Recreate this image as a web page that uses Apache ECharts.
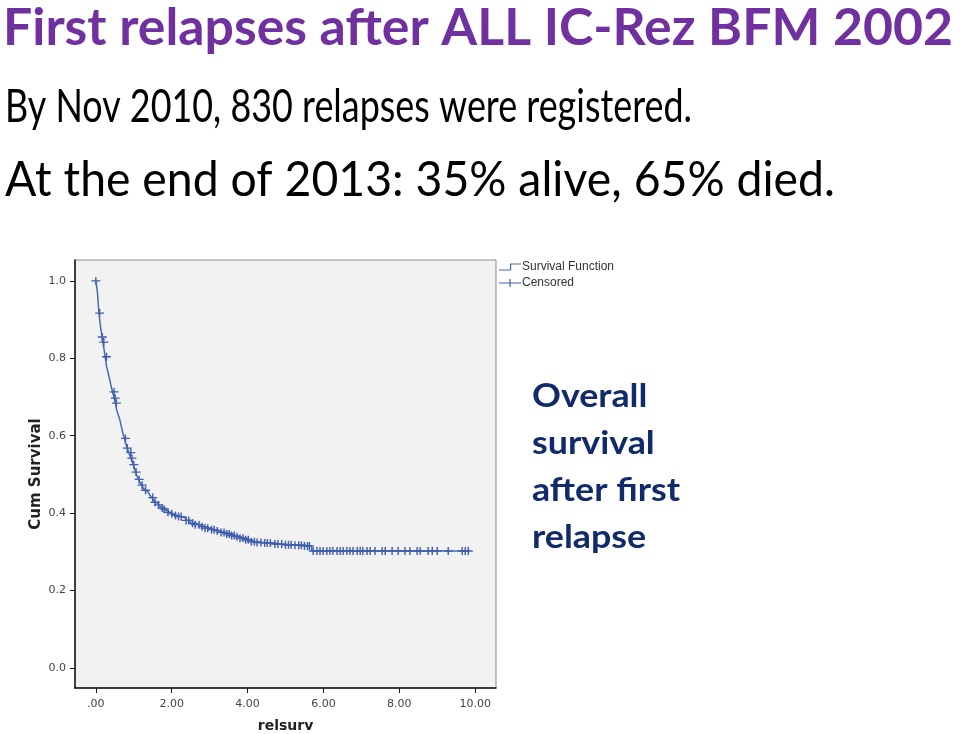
<!DOCTYPE html>
<html>
<head>
<meta charset="utf-8">
<script src="https://cdn.jsdelivr.net/npm/echarts@6/dist/echarts.min.js"></script>
<style>
html,body{margin:0;padding:0;background:#fff;}
#chart{width:960px;height:734px;}
</style>
</head>
<body>
<div id="chart"></div>
<script>
// ---- Data (Kaplan-Meier curve) ----
var stepTimes = [0, 0.040, 0.061, 0.084, 0.106, 0.132, 0.166, 0.185, 0.211, 0.245, 0.282, 0.317, 0.356, 0.396, 0.441, 0.483, 0.520, 0.546, 0.588, 0.633, 0.673, 0.712, 0.752, 0.784, 0.826, 0.871, 0.923, 0.958, 0.985, 1.011, 1.047, 1.082, 1.121, 1.161, 1.206, 1.248, 1.293, 1.338, 1.380, 1.425, 1.470, 1.512, 1.557, 1.600, 1.644, 1.690, 1.734, 1.780, 1.821, 1.890, 1.953, 2.04, 2.13, 2.26, 2.37, 2.48, 2.61, 2.74, 2.88, 3.01, 3.14, 3.27, 3.40, 3.54, 3.67, 3.80, 3.93, 4.06, 4.20, 4.38, 4.67, 4.91, 5.17, 5.46, 5.69, 9.82];
var stepSurvival = [1.0, 0.972, 0.943, 0.917, 0.895, 0.876, 0.855, 0.842, 0.826, 0.804, 0.779, 0.765, 0.749, 0.731, 0.713, 0.697, 0.684, 0.667, 0.654, 0.641, 0.623, 0.607, 0.593, 0.581, 0.568, 0.556, 0.542, 0.533, 0.525, 0.517, 0.506, 0.496, 0.487, 0.479, 0.472, 0.465, 0.459, 0.454, 0.450, 0.446, 0.440, 0.434, 0.428, 0.425, 0.421, 0.417, 0.413, 0.410, 0.407, 0.402, 0.398, 0.394, 0.391, 0.387, 0.381, 0.374, 0.370, 0.365, 0.361, 0.357, 0.354, 0.350, 0.346, 0.342, 0.339, 0.335, 0.331, 0.326, 0.324, 0.323, 0.320, 0.318, 0.317, 0.315, 0.302, 0.302];
var censoredTimes = [0.0, 0.10, 0.17, 0.21, 0.28, 0.48, 0.51, 0.54, 0.78, 0.83, 0.92, 0.95, 1.00, 1.06, 1.14, 1.22, 1.31, 1.50, 1.56, 1.65, 1.75, 1.80, 1.90, 2.00, 2.10, 2.18, 2.25, 2.38, 2.45, 2.55, 2.62, 2.72, 2.80, 2.88, 2.95, 3.05, 3.12, 3.20, 3.30, 3.38, 3.45, 3.52, 3.58, 3.65, 3.72, 3.80, 3.88, 3.95, 4.02, 4.10, 4.18, 4.25, 4.35, 4.45, 4.52, 4.60, 4.72, 4.80, 4.90, 5.00, 5.08, 5.15, 5.25, 5.35, 5.42, 5.50, 5.58, 5.63, 5.73, 5.83, 5.91, 5.99, 6.09, 6.17, 6.25, 6.36, 6.44, 6.52, 6.62, 6.70, 6.78, 6.89, 6.97, 7.04, 7.15, 7.23, 7.36, 7.55, 7.63, 7.81, 7.97, 8.15, 8.28, 8.47, 8.55, 8.76, 8.87, 9.00, 9.29, 9.66, 9.74, 9.82];
var xTicks = [0, 2, 4, 6, 8, 10];
var yTicks = [0, 0.2, 0.4, 0.6, 0.8, 1.0];
var titleText = 'First relapses after ALL IC-Rez BFM 2002';
var line2Text = 'By Nov 2010, 830 relapses were registered.';
var line3Text = 'At the end of 2013: 35% alive, 65% died.';
var noteLines = ['Overall', 'survival', 'after first', 'relapse'];

// survival value of the KM step function at time t
function survivalAt(t) {
  var s = stepSurvival[0];
  for (var i = 0; i < stepTimes.length; i++) {
    if (stepTimes[i] <= t + 1e-9) s = stepSurvival[i];
  }
  return s;
}
var curveData = stepTimes.map(function (t, i) { return [t, stepSurvival[i]]; });
var censorData = censoredTimes.map(function (t) { return [t, survivalAt(t)]; });

// text width fitting
var ctx = document.createElement('canvas').getContext('2d');
function fitScale(text, font, target) {
  ctx.font = font;
  return target / ctx.measureText(text).width;
}

var titleFont = 'bold 52px Lato';
var l2Font = '46px Lato';
var l3Font = '49px Lato';
var noteFont = 'bold 33px Lato';
var sTitle = fitScale(titleText, titleFont, 950);
var s2 = fitScale(line2Text, l2Font, 687);
var s3 = fitScale(line3Text, l3Font, 830);
var sNote = fitScale('after first', noteFont, 148);

var graphics = [
  {type: 'text', x: 3, y: 28, scaleX: sTitle, style: {text: titleText, font: titleFont, fill: '#7030a0', verticalAlign: 'middle'}},
  {type: 'text', x: 5, y: 107, scaleX: s2, style: {text: line2Text, font: l2Font, fill: '#000', verticalAlign: 'middle'}},
  {type: 'text', x: 5, y: 180, scaleX: s3, style: {text: line3Text, font: l3Font, fill: '#000', verticalAlign: 'middle'}}
];
noteLines.forEach(function (t, i) {
  graphics.push({type: 'text', x: 532, y: 396 + i * 47, scaleX: sNote, style: {text: t, font: noteFont, fill: '#102a6b', verticalAlign: 'middle'}});
});

var blue = '#4868b2';
var chart = echarts.init(document.getElementById('chart'), null, {renderer: 'canvas'});
chart.setOption({
  animation: false,
  backgroundColor: '#fff',
  grid: {left: 75, right: 464, top: 260, bottom: 46, outerBoundsMode: 'none', containLabel: false,
    show: true, backgroundColor: '#f2f2f2', borderColor: '#8a8a8a', borderWidth: 1},
  legend: {
    left: 499, top: 261, orient: 'vertical', itemWidth: 22, itemHeight: 8, itemGap: 4, padding: 0,
    textStyle: {fontFamily: 'Liberation Sans', fontSize: 12, color: '#333', padding: [0, 0, 0, -4]},
    data: [
      {name: 'Survival Function', icon: 'path://M0,6 L11,6 L11,0 L22,0 L22,1.2 L12.2,1.2 L12.2,7.2 L0,7.2 Z'},
      {name: 'Censored', icon: 'path://M0,3.5 L10.4,3.5 L10.4,0 L11.6,0 L11.6,3.5 L22,3.5 L22,4.5 L11.6,4.5 L11.6,8 L10.4,8 L10.4,4.5 L0,4.5 Z'}
    ]
  },
  xAxis: {
    type: 'value', min: -0.55, max: 10.55,
    name: 'relsurv', nameLocation: 'middle', nameGap: 31,
    nameTextStyle: {fontFamily: 'DejaVu Sans', fontWeight: 'bold', fontSize: 14, color: '#222'},
    axisLine: {show: true, onZero: false, lineStyle: {color: '#111', width: 1.5}},
    axisTick: {show: true, length: 5, lineStyle: {color: '#111'}, customValues: xTicks},
    axisLabel: {fontFamily: 'DejaVu Sans', fontSize: 11, color: '#444', margin: 11, customValues: xTicks,
      formatter: function (v) { return v === 0 ? '.00' : v.toFixed(2); }},
    splitLine: {show: false}
  },
  yAxis: {
    type: 'value', min: -0.052, max: 1.054,
    name: 'Cum Survival', nameLocation: 'middle', nameGap: 31, nameRotate: 90,
    nameTextStyle: {fontFamily: 'DejaVu Sans', fontWeight: 'bold', fontSize: 15, color: '#222'},
    axisLine: {show: true, onZero: false, lineStyle: {color: '#111', width: 1.5}},
    axisTick: {show: true, length: 5, lineStyle: {color: '#111'}, customValues: yTicks},
    axisLabel: {fontFamily: 'DejaVu Sans', fontSize: 11, color: '#444', margin: 9, customValues: yTicks,
      formatter: function (v) { return v.toFixed(1); }},
    splitLine: {show: false}
  },
  series: [
    {name: 'Survival Function', type: 'line', step: 'end', data: curveData, showSymbol: false, symbol: 'none',
      lineStyle: {color: blue, width: 1.5}, itemStyle: {color: blue}, z: 2},
    {name: 'Censored', type: 'scatter', data: censorData,
      symbol: 'path://M4.2,0 L5.8,0 L5.8,4.2 L10,4.2 L10,5.8 L5.8,5.8 L5.8,10 L4.2,10 L4.2,5.8 L0,5.8 L0,4.2 L4.2,4.2 Z',
      symbolSize: [9, 8], itemStyle: {color: '#3f5fae', opacity: 1}, z: 3}
  ],
  graphic: graphics
});
</script>
</body>
</html>
